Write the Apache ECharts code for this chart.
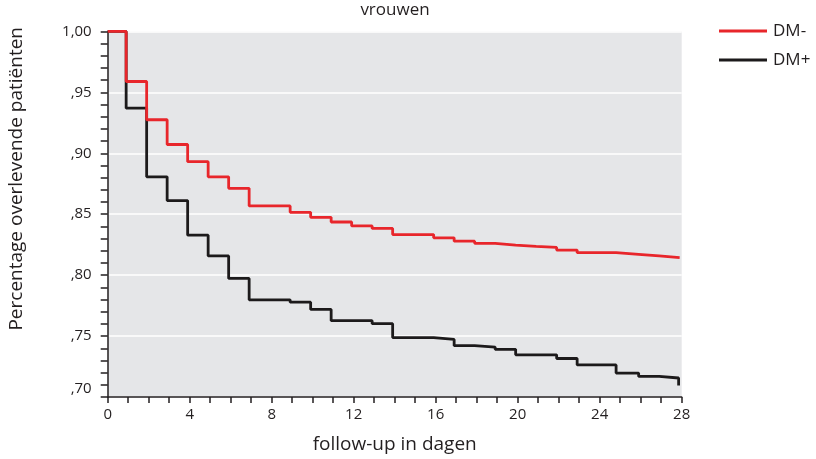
<!DOCTYPE html>
<html>
<head>
<meta charset="utf-8">
<title>vrouwen</title>
<script src="https://cdn.jsdelivr.net/npm/echarts@6/dist/echarts.min.js"></script>
<style>
  html, body { margin: 0; padding: 0; background: #ffffff; }
  #chart { width: 816px; height: 459px; }
</style>
</head>
<body>
<div id="chart"></div>
<script>
// Kaplan-Meier survival, women, by diabetes status (follow-up in days)
const dmMinTimes = [0, 0.9, 1.9, 2.9, 3.9, 4.9, 5.9, 6.9, 8.9, 9.9, 10.9, 11.9, 12.9, 13.9, 15.9, 16.9, 17.9, 18.9, 19.9, 20.9, 21.9, 22.9, 24.8, 25.9, 26.9, 27.9];
const dmMinSurv  = [1.000, 0.9589, 0.9275, 0.9072, 0.8931, 0.8807, 0.8712, 0.8568, 0.8515, 0.8474, 0.8436, 0.8404, 0.8383, 0.8333, 0.8306, 0.8279, 0.8261, 0.8247, 0.8236, 0.8227, 0.8206, 0.8184, 0.8171, 0.8158, 0.8144, 0.8144];

const dmPlusTimes = [0, 0.9, 1.9, 2.9, 3.9, 4.9, 5.9, 6.9, 8.9, 9.9, 10.9, 12.9, 13.9, 15.9, 16.9, 17.9, 18.9, 19.9, 21.9, 22.9, 24.8, 25.9, 26.9, 27.85];
const dmPlusSurv  = [1.000, 0.9370, 0.8807, 0.8612, 0.8328, 0.8158, 0.7973, 0.7797, 0.7778, 0.7719, 0.7626, 0.7602, 0.7488, 0.7472, 0.7421, 0.7410, 0.7391, 0.7346, 0.7316, 0.7263, 0.7196, 0.7169, 0.7156, 0.7094];

const seriesNames = ['DM-', 'DM+'];
const xTicks = [0, 4, 8, 12, 16, 20, 24, 28];
const yTicks = [0.70, 0.75, 0.80, 0.85, 0.90, 0.95, 1.00];

const FONT = '"Open Sans", "Noto Sans", sans-serif';
const INK = '#231f20';

function pairs(ts, vs) {
  return ts.map((t, i) => [t, vs[i]]);
}

function yLabel(v) {
  const h = Math.round(v * 100);
  if (h === 100) return '1,00';
  const s = ',' + String(h).padStart(2, '0');
  // lowest label sits a little above its tick, clear of the x axis
  return h === 70 ? '{low|' + s + '}' : s;
}

const chart = echarts.init(document.getElementById('chart'), null, { renderer: 'canvas' });

chart.setOption({
  animation: false,
  backgroundColor: '#ffffff',
  textStyle: { fontFamily: FONT, color: INK },
  title: {
    text: 'vrouwen',
    left: 395,
    textAlign: 'center',
    top: 2,
    padding: 0,
    textStyle: { fontFamily: FONT, fontSize: 17, fontWeight: 'normal', color: INK }
  },
  legend: {
    data: seriesNames,
    orient: 'vertical',
    left: 719,
    top: 22,
    padding: 0,
    icon: 'rect',
    itemWidth: 48,
    itemHeight: 3,
    itemGap: 11,
    textStyle: { fontFamily: FONT, fontSize: 17, color: INK, lineHeight: 18, padding: [0, 0, 0, 1] }
  },
  grid: {
    left: 107.7,
    right: 134.3,
    top: 31.4,
    bottom: 58.1,
    show: true,
    backgroundColor: '#e5e6e8',
    borderWidth: 0,
    containLabel: false
  },
  xAxis: {
    type: 'value',
    min: xTicks[0],
    max: xTicks[xTicks.length - 1],
    interval: 4,
    name: 'follow-up in dagen',
    nameLocation: 'middle',
    nameGap: 38,
    nameTextStyle: { fontFamily: FONT, fontSize: 19, color: INK },
    axisLine: { show: true, onZero: false, lineStyle: { color: INK, width: 1.5 } },
    axisTick: { show: true, length: 6, lineStyle: { color: INK, width: 1.5 } },
    minorTick: { show: true, splitNumber: 4, length: 6, lineStyle: { color: INK, width: 1.5 } },
    axisLabel: { margin: 10, fontFamily: FONT, fontSize: 15, color: INK },
    splitLine: { show: false }
  },
  yAxis: {
    type: 'value',
    min: yTicks[0],
    max: yTicks[yTicks.length - 1],
    interval: 0.05,
    axisLine: { show: true, onZero: false, lineStyle: { color: INK, width: 1.5 } },
    axisTick: { show: true, length: 7, lineStyle: { color: INK, width: 1.5 } },
    minorTick: { show: true, splitNumber: 5, length: 7, lineStyle: { color: INK, width: 1.5 } },
    axisLabel: {
      margin: 16,
      fontFamily: FONT,
      fontSize: 15,
      color: INK,
      formatter: yLabel,
      rich: { low: { fontFamily: FONT, fontSize: 15, color: INK, padding: [0, 0, 17, 0] } }
    },
    splitLine: { show: true, lineStyle: { color: '#ffffff', width: 1.6 } }
  },
  graphic: [{
    type: 'text',
    left: 7,
    top: 27,
    rotation: Math.PI / 2,
    style: {
      text: 'Percentage overlevende patiënten',
      font: '19px ' + FONT,
      fill: INK
    }
  }],
  series: [
    {
      name: seriesNames[0],
      type: 'line',
      step: 'end',
      symbol: 'none',
      z: 4,
      lineStyle: { color: '#e8262b', width: 2.8 },
      itemStyle: { color: '#e8262b' },
      data: pairs(dmMinTimes, dmMinSurv)
    },
    {
      name: seriesNames[1],
      type: 'line',
      step: 'end',
      symbol: 'none',
      z: 3,
      lineStyle: { color: '#1c1a1b', width: 2.8 },
      itemStyle: { color: '#1c1a1b' },
      data: pairs(dmPlusTimes, dmPlusSurv)
    }
  ]
});
</script>
</body>
</html>
